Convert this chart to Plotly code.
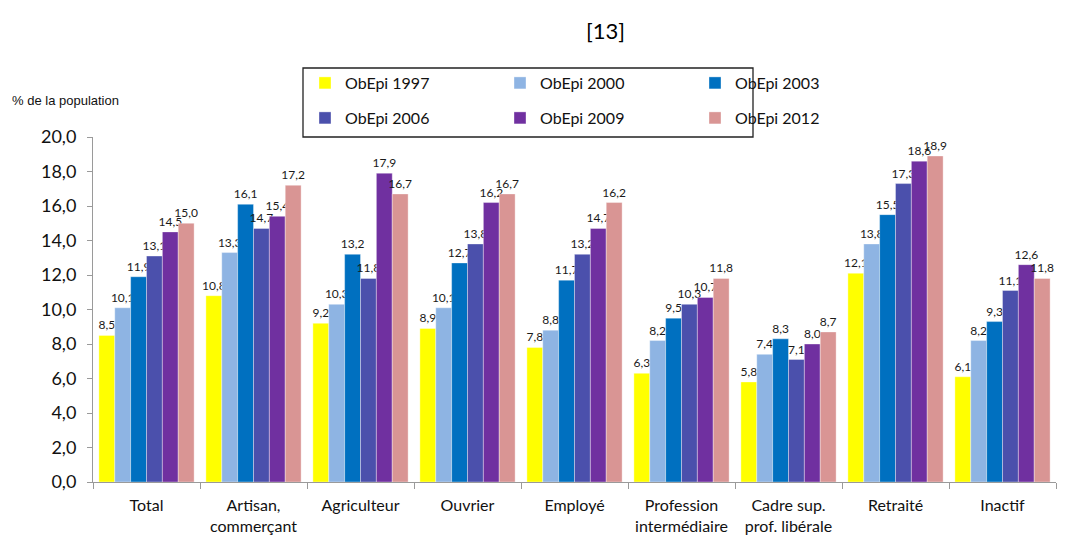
import plotly.graph_objects as go

categories = ["Total", "Artisan,<br>commerçant", "Agriculteur", "Ouvrier", "Employé",
              "Profession<br>intermédiaire", "Cadre sup.<br>prof. libérale", "Retraité", "Inactif"]
series_names = ["ObEpi 1997", "ObEpi 2000", "ObEpi 2003", "ObEpi 2006", "ObEpi 2009", "ObEpi 2012"]
v1997 = [8.5, 10.8, 9.2, 8.9, 7.8, 6.3, 5.8, 12.1, 6.1]
v2000 = [10.1, 13.3, 10.3, 10.1, 8.8, 8.2, 7.4, 13.8, 8.2]
v2003 = [11.9, 16.1, 13.2, 12.7, 11.7, 9.5, 8.3, 15.5, 9.3]
v2006 = [13.1, 14.7, 11.8, 13.8, 13.2, 10.3, 7.1, 17.3, 11.1]
v2009 = [14.5, 15.4, 17.9, 16.2, 14.7, 10.7, 8.0, 18.6, 12.6]
v2012 = [15.0, 17.2, 16.7, 16.7, 16.2, 11.8, 8.7, 18.9, 11.8]
colors = ["#FFFF00", "#8EB4E3", "#0070C0", "#4B50AC", "#7030A0", "#D99594"]
ytick_vals = [0, 2, 4, 6, 8, 10, 12, 14, 16, 18, 20]

all_vals = [v1997, v2000, v2003, v2006, v2009, v2012]
FONT = "Lato, Open Sans, sans-serif"

# page has an 8px body margin: figure origin sits at screen (8, 8)
OFF = 8
W, H = 1080, 538
PL, PR, PT, PB = 93, 1056, 137, 482  # target plot-area screen edges
PW, PH = PR - PL, PB - PT

def px(x):
    return (x - PL) / PW

def py(y):
    return (PB - y) / PH

fig = go.Figure()
for i, (name, vals, col) in enumerate(zip(series_names, all_vals, colors)):
    fig.add_trace(go.Bar(
        x=categories, y=vals, name=name,
        marker=dict(color=col, line=dict(color="rgba(255,255,255,0.6)", width=0.6)),
        texttemplate="%{y:.1f}", textposition="outside", constraintext="none",
        textfont=dict(size=12, color="#1a1a1a", family=FONT),
        cliponaxis=False,
        legend="legend" if i < 3 else "legend2",
    ))

legend_common = dict(
    orientation="h", xref="container", yref="container",
    font=dict(size=16, family=FONT, color="#111111"),
    entrywidth=150, entrywidthmode="pixels",
    bgcolor="rgba(0,0,0,0)", itemclick=False, itemdoubleclick=False,
    xanchor="left", yanchor="middle", tracegroupgap=0,
)

fig.update_layout(
    width=W, height=H,
    paper_bgcolor="white", plot_bgcolor="white",
    margin=dict(l=PL - OFF, r=W - (PR - OFF), t=PT - OFF, b=H - (PB - OFF), autoexpand=False),
    separators=", ",
    barmode="group", bargap=0.11, bargroupgap=0,
    font=dict(family=FONT, size=16, color="#111111"),
    legend=dict(x=(305 - OFF) / W, y=1 - (83 - OFF) / H, **legend_common),
    legend2=dict(x=(305 - OFF) / W, y=1 - (118 - OFF) / H, **legend_common),
    xaxis=dict(
        showline=True, linecolor="#9a9a9a", linewidth=1,
        ticks="outside", tickson="boundaries", ticklen=6, tickcolor="#9a9a9a",
        ticklabelstandoff=9,
        tickfont=dict(size=16, family=FONT, color="#111111"),
        showgrid=False,
    ),
    yaxis=dict(
        range=[0, 20], tickvals=ytick_vals, tickformat=".1f",
        showline=True, linecolor="#9a9a9a", linewidth=1,
        ticks="outside", ticklen=5, tickcolor="#9a9a9a", ticklabelstandoff=7,
        tickfont=dict(size=18, family=FONT, color="#111111"),
        showgrid=False, zeroline=False,
    ),
    shapes=[dict(type="rect", xref="paper", yref="paper",
                 x0=px(303), x1=px(753), y0=py(137), y1=py(68),
                 line=dict(color="#222222", width=1.3), fillcolor="rgba(0,0,0,0)")],
    annotations=[
        dict(text="[13]", xref="paper", yref="paper", x=px(605), y=py(30),
             showarrow=False, font=dict(size=22, family=FONT, color="#000000"),
             xanchor="center", yanchor="middle"),
        dict(text="% de la population", xref="paper", yref="paper", x=px(10),
             y=py(100), showarrow=False,
             font=dict(size=13, family="Liberation Sans, Arial", color="#111111"),
             xanchor="left", yanchor="middle"),
    ],
)

fig.write_html("out.html")
